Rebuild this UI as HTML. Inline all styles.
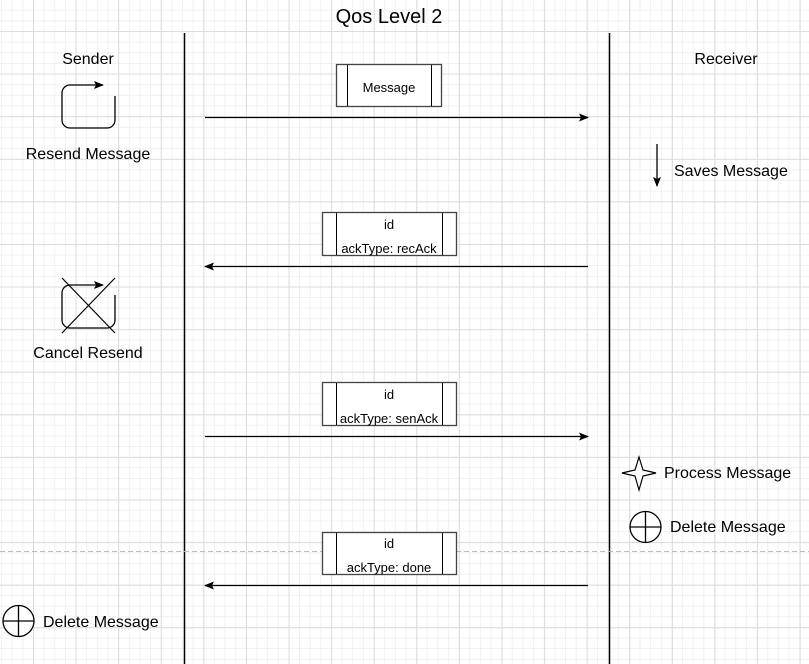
<!DOCTYPE html>
<html><head><style>
html,body{margin:0;padding:0}
body{width:809px;height:664px;overflow:hidden;position:relative;background-color:#fff;
background-image:linear-gradient(#dcdcdc 1px,transparent 1px),linear-gradient(90deg,#dcdcdc 1px,transparent 1px),linear-gradient(#f1f1f1 1px,transparent 1px),linear-gradient(90deg,#f1f1f1 1px,transparent 1px);
background-size:42.6px 42.6px,42.6px 42.6px,10.65px 10.65px,10.65px 10.65px;
background-position:0 31px,33px 0,0 31px,33px 0;
font-family:"Liberation Sans",Arial,sans-serif;}
svg{position:absolute;left:0;top:0}
</style></head><body>
<svg width="809" height="664" viewBox="0 0 809 664" font-family="Liberation Sans, Arial, sans-serif">
<defs><marker id="a" markerWidth="10" markerHeight="8" refX="9" refY="4" orient="auto" markerUnits="userSpaceOnUse"><path d="M0,0 L10,4 L0,8 L2,4 z" fill="#000"/></marker></defs>
<text x="389" y="23" font-size="20" text-anchor="middle">Qos Level 2</text>
<line x1="184.5" y1="33" x2="184.5" y2="664" stroke="#000" stroke-width="1.5"/>
<line x1="609.5" y1="33" x2="609.5" y2="664" stroke="#000" stroke-width="1.5"/>
<line x1="0" y1="551.5" x2="809" y2="551.5" stroke="#bbb" stroke-dasharray="5,3"/>
<text x="88" y="64" font-size="16" text-anchor="middle">Sender</text>
<text x="726" y="64" font-size="16" text-anchor="middle">Receiver</text>
<path d="M115,96 V120 a8,8 0 0 1 -8,8 H70 a8,8 0 0 1 -8,-8 V93 a8,8 0 0 1 8,-8 H103" fill="none" stroke="#000" stroke-width="1.3" marker-end="url(#a)"/>
<text x="88" y="159" font-size="16" text-anchor="middle">Resend Message</text>
<path d="M115,295 V320 a8,8 0 0 1 -8,8 H70 a8,8 0 0 1 -8,-8 V293 a8,8 0 0 1 8,-8 H103" fill="none" stroke="#000" stroke-width="1.3" marker-end="url(#a)"/>
<line x1="62" y1="278" x2="115" y2="333" stroke="#000" stroke-width="1.2"/>
<line x1="115" y1="278" x2="62" y2="333" stroke="#000" stroke-width="1.2"/>
<text x="88" y="358" font-size="16" text-anchor="middle">Cancel Resend</text>
<g fill="#fff" stroke="#444" stroke-width="1.3">
<rect x="336.5" y="64.5" width="105" height="42"/>
<rect x="322.5" y="212.5" width="134" height="43"/>
<rect x="322.5" y="382.5" width="134" height="43"/>
<rect x="322.5" y="532.5" width="134" height="42"/>
</g>
<g stroke="#000" stroke-width="1">
<line x1="347.5" y1="65" x2="347.5" y2="106"/><line x1="431.5" y1="65" x2="431.5" y2="106"/>
<line x1="336.5" y1="213" x2="336.5" y2="255"/><line x1="442.5" y1="213" x2="442.5" y2="255"/>
<line x1="336.5" y1="383" x2="336.5" y2="425"/><line x1="442.5" y1="383" x2="442.5" y2="425"/>
<line x1="336.5" y1="533" x2="336.5" y2="574"/><line x1="442.5" y1="533" x2="442.5" y2="574"/>
</g>
<g font-size="13" text-anchor="middle">
<text x="389" y="92">Message</text>
<text x="389" y="229">id</text><text x="389" y="253">ackType: recAck</text>
<text x="389" y="399">id</text><text x="389" y="423">ackType: senAck</text>
<text x="389" y="548">id</text><text x="389" y="572">ackType: done</text>
</g>
<g stroke="#000" stroke-width="1.3" marker-end="url(#a)">
<line x1="205" y1="117.5" x2="588" y2="117.5"/>
<line x1="588" y1="266.5" x2="205" y2="266.5"/>
<line x1="205" y1="436.5" x2="588" y2="436.5"/>
<line x1="588" y1="585.5" x2="205" y2="585.5"/>
<line x1="657" y1="144" x2="657" y2="186"/>
</g>
<text x="674" y="176" font-size="16">Saves Message</text>
<path d="M639,457 L643,470 L656,473 L643,476 L639,490 L635,476 L622,473 L635,470 Z" fill="#fff" stroke="#000" stroke-width="1.2"/>
<text x="664" y="478" font-size="16">Process Message</text>
<g fill="#fff" stroke="#000" stroke-width="1.3">
<circle cx="645.5" cy="527" r="15.5"/><line x1="630" y1="527" x2="661" y2="527"/><line x1="645.5" y1="511.5" x2="645.5" y2="542.5"/>
<circle cx="18.5" cy="621" r="15.5"/><line x1="3" y1="621" x2="34" y2="621"/><line x1="18.5" y1="605.5" x2="18.5" y2="636.5"/>
</g>
<text x="670" y="532" font-size="16">Delete Message</text>
<text x="43" y="627" font-size="16">Delete Message</text>
</svg>
</body></html>
